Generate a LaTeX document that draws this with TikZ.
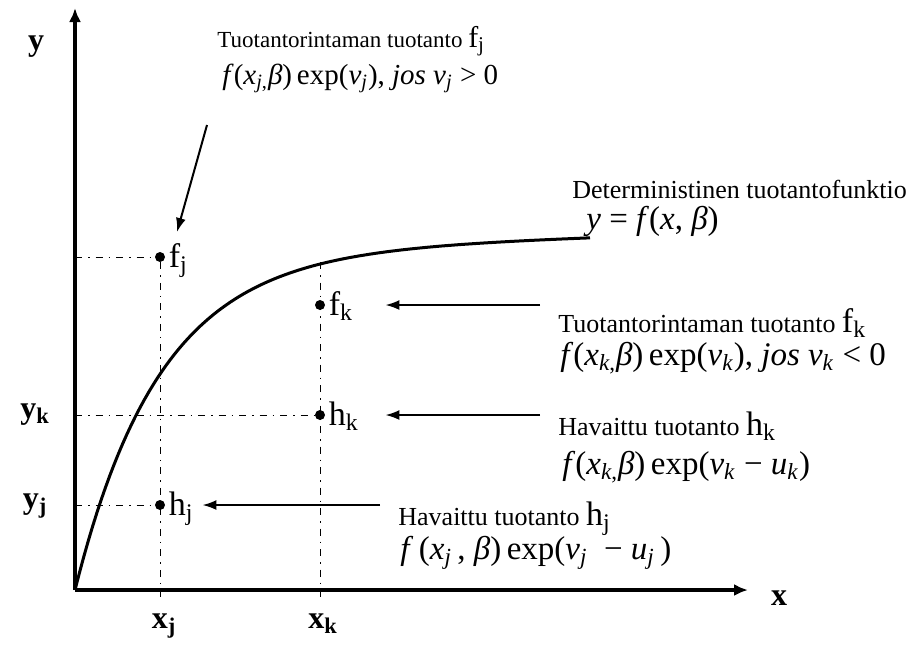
\documentclass[tikz,border=0pt]{standalone}
\usepackage{fontspec}
\setmainfont{Liberation Serif}
\usetikzlibrary{positioning,arrows.meta}

\newcommand{\lsub}[3][17]{{\fontsize{#1}{#1}\selectfont #2\textsubscript{#3}}}
\newcommand{\vi}[1]{\textit{#1}}

\begin{document}
\begin{tikzpicture}[
  x=0.5pt, y=-0.5pt,
  font=\fontsize{13}{15}\selectfont,
  dot/.style={circle, fill, inner sep=0pt, minimum size=5pt},
  lbl/.style={inner sep=0pt, anchor=base west, font=\fontsize{17}{18}\selectfont},
  axlbl/.style={inner sep=0pt, anchor=base, font=\fontsize{16}{18}\selectfont\bfseries},
  txt/.style={inner sep=0pt, anchor=base west},
  formula/.style={inner sep=0pt, anchor=base west, font=\fontsize{16.5}{18}\selectfont},
  arr/.style={-{Latex[length=7pt, width=5pt]}, line width=1pt},
  axis/.style={-{Latex[length=7pt, width=6pt]}, line width=1.75pt},
  guide/.style={line width=0.5pt, dash pattern=on 3.5pt off 3pt on 0.75pt off 3pt}]
\useasboundingbox (0,0) rectangle (910,645);
\coordinate (O) at (75,590);
\coordinate (ytop) at (75,8);
\coordinate (xend) at (748,590);
\coordinate (xlo) at (75,597);
\coordinate (ck) at (320,262);
\node[dot] (fj) at (160,257) {};
\node[dot] (fk) at (320,305) {};
\node[dot] (hk) at (320,415) {};
\node[dot] (hj) at (160,505) {};
\node[lbl] (fjl) at ([xshift=1.5pt, yshift=-5pt]fj.east) {f\textsubscript{j}};
\node[lbl] (fkl) at ([xshift=1.5pt, yshift=-5pt]fk.east) {f\textsubscript{k}};
\node[lbl] (hkl) at ([xshift=1.5pt, yshift=-5pt]hk.east) {h\textsubscript{k}};
\node[lbl] (hjl) at ([xshift=1.5pt, yshift=-5pt]hj.east) {h\textsubscript{j}};
\draw[guide] (O |- fj) -- (fj);
\draw[guide] (O |- hk) -- (hk);
\draw[guide] (O |- hj) -- (hj);
\draw[guide] (fj) -- (fj |- xlo);
\draw[guide] (ck) -- (ck |- xlo);
\draw[axis] (O) -- (ytop);
\draw[axis] (O) -- (xend);
\draw[line width=1.5pt] plot[domain=0:515, samples=120] ({75+\x}, {590-337.5*(1-exp(-\x/85))-0.03*\x});
\node[axlbl] (ylbl) at (36,50) {y};
\node[axlbl] (xlbl) at (779,605) {x};
\node[axlbl] (yk) at (35,418) {y\textsubscript{k}};
\node[axlbl] (yj) at (35,508) {y\textsubscript{j}};
\node[axlbl] (xj) at (164,628) {x\textsubscript{j}};
\node[axlbl] (xk) at (323,628) {x\textsubscript{k}};
\node[txt, font=\fontsize{11.5}{13}\selectfont] (fjtxt) at (217,47) {Tuotantorintaman tuotanto \lsub[15]{f}{j}};
\node[formula, font=\fontsize{14.5}{16}\selectfont] (fjeq) at (222,84) {\vi{f}(\vi{x}\textsubscript{\vi{j},}\vi{β})\,exp(\vi{v}\textsubscript{\vi{j}}), \vi{jos v}\textsubscript{\vi{j}} {>} 0};
\node[txt] (dettxt) at (572,198) {Deterministinen tuotantofunktio};
\node[formula] (deteq) at (586,229) {\vi{y} = \vi{f}(\vi{x}, \vi{β})};
\node[txt] (fktxt) at (558,332) {Tuotantorintaman tuotanto \lsub{f}{k}};
\node[formula] (fkeq) at (560,365) {\vi{f}(\vi{x}\textsubscript{\vi{k},}\vi{β})\,exp(\vi{v}\textsubscript{\vi{k}}), \vi{jos v}\textsubscript{\vi{k}} {<} 0};
\node[txt] (hktxt) at (558,435) {Havaittu tuotanto \lsub{h}{k}};
\node[formula] (hkeq) at (562,474) {\vi{f}(\vi{x}\textsubscript{\vi{k},}\vi{β})\,exp(\vi{v}\textsubscript{\vi{k}} − \vi{u}\textsubscript{\vi{k}})};
\node[txt] (hjtxt) at (398,525) {Havaittu tuotanto \lsub{h}{j}};
\node[formula] (hjeq) at (400,559) {\vi{f}\,(\vi{x}\textsubscript{\vi{j}}\,,\ \vi{β})\,exp(\vi{v}\textsubscript{\vi{j}}\ \ −\ \vi{u}\textsubscript{\vi{j}}\,)};
\coordinate (fjtail) at (207,125);
\coordinate (fjtip) at (177,232);
\coordinate (fkarr) at (540,305);
\coordinate (hkarr) at (540,415);
\coordinate (hjarr) at (380,505);
\draw[arr] (fjtail) -- (fjtip);
\draw[arr, shorten >=30pt] (fkarr) -- (fk);
\draw[arr, shorten >=30pt] (hkarr) -- (hk);
\draw[arr, shorten >=18.5pt] (hjarr) -- (hj);
\end{tikzpicture}
\end{document}
